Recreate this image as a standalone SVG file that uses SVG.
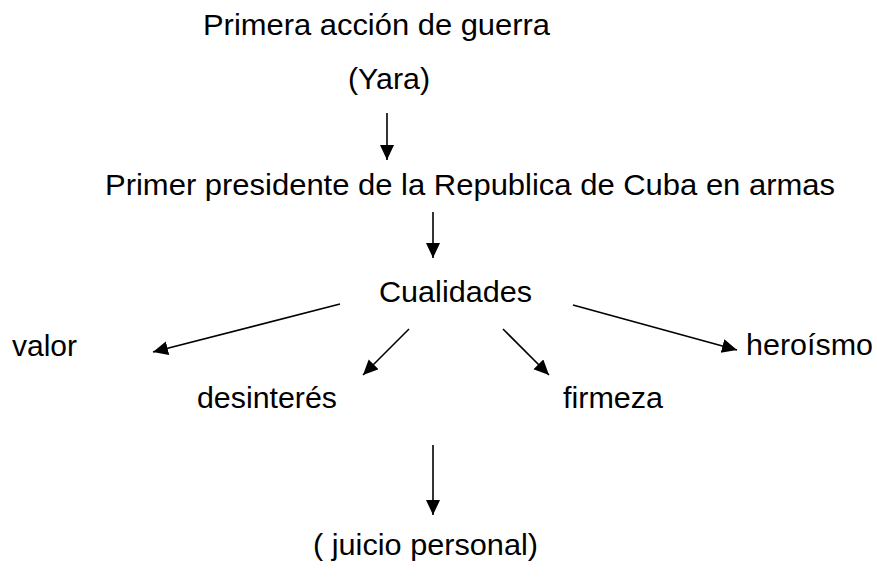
<svg xmlns="http://www.w3.org/2000/svg" width="877" height="579" viewBox="0 0 877 579">
  <style>
    text { font-family: "Liberation Sans", Arial, sans-serif; font-size: 29px; fill: #000; }
    .c { stroke: #000; stroke-width: 1.6; fill: none; marker-end: url(#ah); }
  </style>
  <defs>
    <marker id="ah" markerUnits="userSpaceOnUse" markerWidth="16" markerHeight="16" refX="15" refY="7" orient="auto">
      <path d="M0,0 L15,7 L0,14 z" fill="#000"/>
    </marker>
  </defs>
  <rect width="877" height="579" fill="#fff"/>
  <g id="connectors">
    <line class="c" x1="387" y1="113" x2="387" y2="160"/>
    <line class="c" x1="433" y1="212" x2="433" y2="258"/>
    <line class="c" x1="340" y1="304" x2="153" y2="352"/>
    <line class="c" x1="409" y1="329" x2="363" y2="375"/>
    <line class="c" x1="503" y1="329" x2="549" y2="375"/>
    <line class="c" x1="573" y1="305" x2="737" y2="350"/>
    <line class="c" x1="433" y1="445" x2="433" y2="515"/>
  </g>
  <g id="n-primera"><text x="203" y="35" textLength="347" lengthAdjust="spacingAndGlyphs">Primera acción de guerra</text></g>
  <g id="n-yara"><text x="348" y="89" textLength="82" lengthAdjust="spacingAndGlyphs">(Yara)</text></g>
  <g id="n-presidente"><text x="105" y="195" textLength="730" lengthAdjust="spacingAndGlyphs">Primer presidente de la Republica de Cuba en armas</text></g>
  <g id="n-cualidades"><text x="379" y="302" textLength="153" lengthAdjust="spacingAndGlyphs">Cualidades</text></g>
  <g id="n-valor"><text x="12" y="356" textLength="65" lengthAdjust="spacingAndGlyphs">valor</text></g>
  <g id="n-heroismo"><text x="746" y="355" textLength="127" lengthAdjust="spacingAndGlyphs">heroísmo</text></g>
  <g id="n-desinteres"><text x="197" y="408" textLength="140" lengthAdjust="spacingAndGlyphs">desinterés</text></g>
  <g id="n-firmeza"><text x="563" y="408" textLength="100" lengthAdjust="spacingAndGlyphs">firmeza</text></g>
  <g id="n-juicio"><text x="313" y="555" textLength="225" lengthAdjust="spacingAndGlyphs">( juicio personal)</text></g>
</svg>
